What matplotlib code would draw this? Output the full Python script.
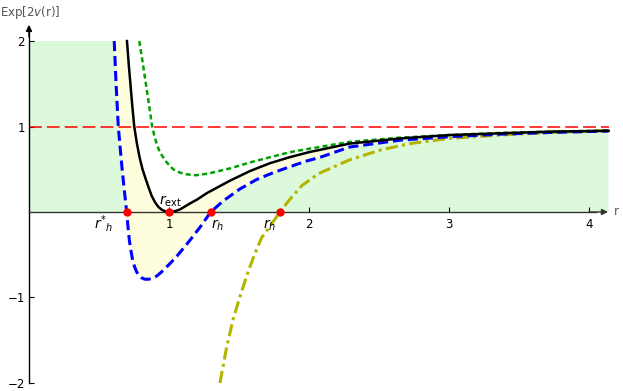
import matplotlib
matplotlib.use("Agg")
import matplotlib.pyplot as plt
import numpy as np

# ---- data ----
black_r = [0.700, 0.712, 0.725, 0.738, 0.752, 0.770, 0.790, 0.810, 0.835, 0.855, 0.876, 0.900,
           0.924, 0.950, 0.975, 1.000, 1.040, 1.079, 1.150, 1.200, 1.270, 1.360, 1.440, 1.580,
           1.720, 1.860, 2.000, 2.290, 2.650, 3.000, 3.360, 3.720, 4.140]
black_y = [2.00, 1.74, 1.49, 1.24, 1.00, 0.81, 0.64, 0.505, 0.38, 0.285, 0.19, 0.115,
           0.06, 0.025, 0.007, 0.00, 0.008, 0.03, 0.10, 0.145, 0.22, 0.30, 0.37, 0.48,
           0.57, 0.64, 0.70, 0.80, 0.86, 0.90, 0.92, 0.94, 0.95]

blue_r = [0.609, 0.622, 0.638, 0.652, 0.666, 0.682, 0.698, 0.707, 0.717, 0.728, 0.740, 0.754,
          0.769, 0.786, 0.805, 0.825, 0.841, 0.860, 0.875, 0.893, 0.912, 0.948, 1.000, 1.055,
          1.150, 1.230, 1.298, 1.388, 1.507, 1.626, 1.745, 1.864, 1.980, 2.080, 2.290, 2.650,
          3.000, 3.360, 3.720, 4.140]
blue_y = [2.00, 1.50, 1.00, 0.74, 0.49, 0.24, 0.00, -0.17, -0.33, -0.45, -0.56, -0.64,
          -0.70, -0.745, -0.77, -0.785, -0.787, -0.785, -0.777, -0.765, -0.75, -0.70, -0.615, -0.52,
          -0.33, -0.16, 0.00, 0.13, 0.27, 0.38, 0.46, 0.53, 0.595, 0.64, 0.76, 0.84,
          0.88, 0.91, 0.93, 0.947]

green_r = [0.788, 0.812, 0.835, 0.858, 0.880, 0.897, 0.912, 0.930, 0.950, 0.984, 1.030, 1.079,
           1.130, 1.190, 1.281, 1.436, 1.579, 1.721, 1.864, 2.000, 2.290, 2.650, 3.000, 3.360,
           3.720, 4.140]
green_y = [2.00, 1.75, 1.50, 1.25, 1.00, 0.88, 0.80, 0.72, 0.66, 0.58, 0.50, 0.46,
           0.44, 0.43, 0.45, 0.51, 0.58, 0.64, 0.70, 0.74, 0.82, 0.87, 0.90, 0.925,
           0.94, 0.952]

yellow_r = [1.364, 1.412, 1.459, 1.507, 1.567, 1.615, 1.662, 1.733, 1.793, 1.864, 1.950, 2.070,
            2.290, 2.510, 2.720, 3.000, 3.360, 3.720, 4.140]
yellow_y = [-2.00, -1.58, -1.25, -0.99, -0.69, -0.48, -0.30, -0.14, 0.00, 0.15, 0.31, 0.45,
            0.61, 0.725, 0.80, 0.86, 0.90, 0.93, 0.95]

horizon_r = [0.698, 1.000, 1.298, 1.793]
horizon_y = [0.0, 0.0, 0.0, 0.0]
horizon_labels = [r"$r^{*}{}_{h}$", r"$r_{\rm ext}$", r"$r_h$", r"$r_h$"]

x_ticks = [1, 2, 3, 4]
y_ticks = [-2, -1, 1, 2]
y_tick_labels = ["\u22122", "\u22121", "1", "2"]
r_max = 4.14
y_top = 2.0

# ---- figure ----
fig = plt.figure(figsize=(6.23, 3.91), dpi=100)
ax = fig.add_axes([0, 0, 1, 1])
ax.set_xlim(-0.207, 4.243)
ax.set_ylim(-2.094, 2.480)
ax.patch.set_alpha(0)

green_fill = "#dcf9dc"
yellow_fill = "#fefede"

br = np.array(blue_r); by = np.array(blue_y)
kr = np.array(black_r); ky = np.array(black_y)

# yellow region between blue and black curves
ax.fill(np.concatenate([br, kr[::-1]]), np.concatenate([by, ky[::-1]]),
        color=yellow_fill, lw=0, zorder=1)
# green region: left part (0..2 up to blue) and right part under blue
left_idx = np.arange(len(br))[:np.argmax(by <= 0) + 1]
ax.fill(np.concatenate([[0, 0], br[left_idx]]), np.concatenate([[0, y_top], by[left_idx]]),
        color=green_fill, lw=0, zorder=1)
i0 = int(np.where(np.isclose(by, 0.0))[0][-1])
ax.fill(np.concatenate([br[i0:], [br[-1]]]), np.concatenate([by[i0:], [0]]),
        color=green_fill, lw=0, zorder=1)

# red asymptote
ax.plot([0, r_max], [1, 1], color="#ff0000", lw=1.1, dashes=(8.4, 3.3), zorder=2)

ax.plot(yellow_r, yellow_y, color="#b4b400", lw=2.2, dashes=(4.0, 1.4, 1.0, 1.4), zorder=3)
ax.plot(green_r, green_y, color="#00a000", lw=1.8, dashes=(2.0, 1.3), zorder=3)
ax.plot(blue_r, blue_y, color="#0000ff", lw=2.2, dashes=(3.3, 1.6), zorder=3)
ax.plot(black_r, black_y, color="black", lw=1.8, zorder=4)

# axes
for s in ["top", "right"]:
    ax.spines[s].set_visible(False)
ax.spines["left"].set_position(("data", 0))
ax.spines["bottom"].set_position(("data", 0))
ax.spines["left"].set_bounds(-2, 2.1)
ax.spines["bottom"].set_bounds(0, 4.05)
ax.spines["left"].set_linewidth(1.0)
ax.spines["bottom"].set_linewidth(1.0)
ax.spines["bottom"].set_color("#333333")
ax.annotate("", xy=(0, 2.19), xytext=(0, 2.05),
            arrowprops=dict(arrowstyle="-|>", color="black", lw=1.0, mutation_scale=9,
                            shrinkA=0, shrinkB=0), zorder=5)
ax.annotate("", xy=(4.136, 0), xytext=(4.0, 0),
            arrowprops=dict(arrowstyle="-|>", color="#333333", lw=1.0, mutation_scale=9,
                            shrinkA=0, shrinkB=0), zorder=5)

ax.set_xticks(x_ticks)
ax.set_xticklabels([str(t) for t in x_ticks])
ax.set_yticks(y_ticks)
ax.set_yticklabels(y_tick_labels)
ax.tick_params(direction="in", length=3.5, width=0.8, labelsize=8.5, colors="black")
ax.tick_params(axis="x", pad=4)
ax.tick_params(axis="y", pad=3)

# horizon points
ax.plot(horizon_r, horizon_y, "o", color="#ff0000", ms=6, mec="none", zorder=6, clip_on=False)

label_off = [(-0.163, -0.14), (0.014, 0.13), (0.052, -0.15), (-0.073, -0.16)]
for r, y, lab, (dx, dy) in zip(horizon_r, horizon_y, horizon_labels, label_off):
    ax.text(r + dx, y + dy, lab, fontsize=10, ha="center", va="center", zorder=7)

ax.text(-0.205, 2.33, r"Exp[2$v$(r)]", fontsize=8.5, color="#555555", ha="left", va="center")
ax.text(4.175, 0.0, "r", fontsize=8.5, color="#555555", ha="left", va="center")

fig.savefig("out.png", dpi=100)
